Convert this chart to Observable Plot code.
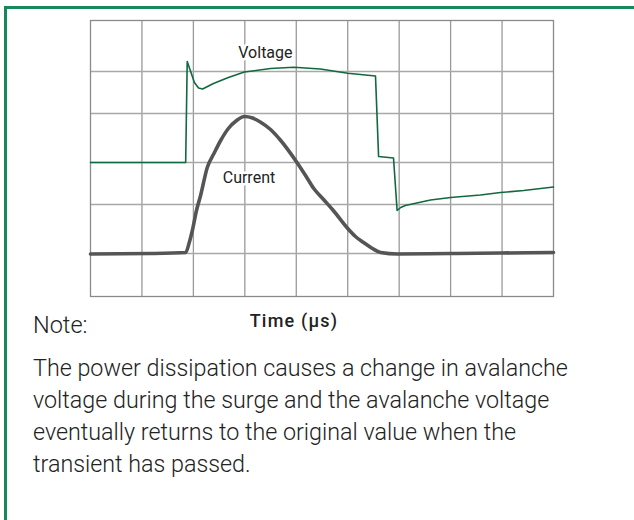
<!DOCTYPE html>
<html>
<head>
<meta charset="utf-8">
<script src="https://cdn.jsdelivr.net/npm/d3@7"></script>
<script src="https://cdn.jsdelivr.net/npm/@observablehq/plot@0.6"></script>
<style>
  html, body { margin: 0; padding: 0; background: #fff; }
  body { width: 634px; height: 520px; position: relative; overflow: hidden; font-family: Roboto, "Liberation Sans", sans-serif; }
  #box { position: absolute; left: 4px; top: 6px; right: -10px; bottom: -10px; border-top: 3px solid #17885b; border-left: 3px solid #17885b; }
  #chart { position: absolute; left: 0; top: 0; }
  #xlabel { position: absolute; left: 194px; width: 200px; text-align: center; top: 310px; font-size: 18px; letter-spacing: 1.2px; font-weight: 500; color: #222; }
  #note { position: absolute; left: 33px; top: 311px; font-size: 23.5px; font-weight: 300; color: #222; }
  #para { position: absolute; left: 33px; top: 352px; width: 565px; font-size: 23.3px; font-weight: 300; line-height: 32px; color: #222; }
</style>
</head>
<body>
<div id="box"></div>
<div id="chart"></div>
<div id="xlabel">Time (μs)</div>
<div id="note">Note:</div>
<div id="para">The power dissipation causes a change in avalanche voltage during the surge and the avalanche voltage eventually returns to the original value when the transient has passed.</div>
<script>
// Time in grid divisions, amplitude in arbitrary units
const voltageT = [0, 1.85, 1.88, 1.94, 2.02, 2.10, 2.18, 2.39, 2.68, 2.99, 3.50, 3.95, 4.47, 5.00, 5.54, 5.60, 5.89, 5.96, 6.03, 6.12, 6.61, 7.00, 7.58, 7.97, 8.42, 9.00];
const voltageV = [134, 134, 235, 226, 214, 208.5, 207.5, 213, 219, 224.5, 228, 229.3, 227.5, 223.3, 220.5, 140, 138.5, 86, 89, 91, 96.5, 99, 101.5, 104, 106, 109.5];

const currentT = [0, 1.17, 1.85, 1.92, 1.98, 2.06, 2.14, 2.27, 2.41, 2.53, 2.68, 2.84, 2.99, 3.15, 3.30, 3.50, 3.69, 4.00, 4.18, 4.34, 4.53, 4.72, 5.00, 5.15, 5.31, 5.48, 5.64, 5.97, 7.00, 7.97, 9.00];
const currentV = [42.5, 43, 44, 54, 66, 86, 101, 129, 144, 156, 168, 176, 180, 178.5, 174.5, 167, 156.5, 135, 121, 108, 97, 86, 68, 60, 54, 48, 44, 42.5, 43, 43.5, 44];

const gridXTicks = [1, 2, 3, 4, 5, 6, 7, 8];
const gridYTicks = [43, 92, 134, 183, 225];

const labelText = ["Voltage", "Current"];
const labelT = [3.40, 3.08];
const labelV = [244, 119];

const voltage = voltageT.map((t, i) => ({t, v: voltageV[i]}));
const current = currentT.map((t, i) => ({t, v: currentV[i]}));
const labels = labelText.map((s, i) => ({s, t: labelT[i], v: labelV[i]}));

const chart = Plot.plot({
  width: 634,
  height: 300,
  marginLeft: 90,
  marginRight: 81,
  marginTop: 20,
  marginBottom: 4,
  x: {domain: [0, 9], axis: null},
  y: {domain: [0, 276], axis: null},
  style: {fontFamily: "Roboto, 'Liberation Sans', sans-serif", background: "transparent"},
  marks: [
    Plot.gridX(gridXTicks, {stroke: "#9a9a9a", strokeOpacity: 1, strokeWidth: 1.3}),
    Plot.gridY(gridYTicks, {stroke: "#a8a8a8", strokeOpacity: 1, strokeWidth: 1.3}),
    Plot.frame({stroke: "#8a8a8a", strokeWidth: 1.3}),
    Plot.line(voltage, {x: "t", y: "v", stroke: "#11693f", strokeWidth: 1.6, curve: "linear"}),
    Plot.line(current, {x: "t", y: "v", stroke: "#555555", strokeWidth: 3.6, curve: "monotone-x"}),
    Plot.text(labels, {x: "t", y: "v", text: "s", fontSize: 16, fill: "#222", stroke: "white", strokeWidth: 5, textAnchor: "middle"})
  ]
});
document.getElementById("chart").appendChild(chart);
</script>
</body>
</html>
